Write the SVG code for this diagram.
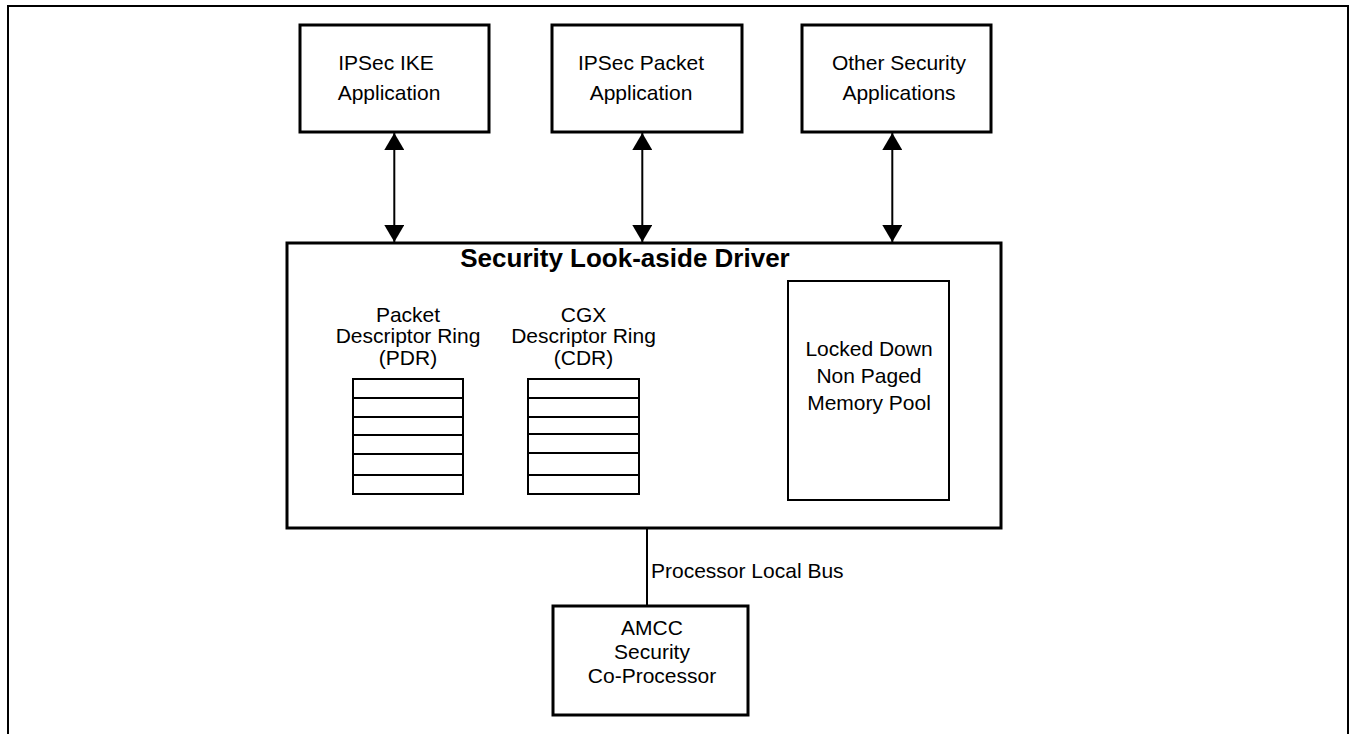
<svg xmlns="http://www.w3.org/2000/svg" width="1354" height="734" viewBox="0 0 1354 734">
<style>
.box{fill:#fff;stroke:#000;stroke-width:3}
.thin{fill:#fff;stroke:#000;stroke-width:2}
.t{font-family:"Liberation Sans",Arial,sans-serif;font-size:21px;fill:#000;text-anchor:middle}
.title{font-family:"Liberation Sans",Arial,sans-serif;font-size:26px;font-weight:bold;fill:#000;text-anchor:middle}
.conn{stroke:#000;stroke-width:2;fill:none}
.row{stroke:#000;stroke-width:2}
</style>
<defs>
<marker id="ah" viewBox="0 0 17 20" refX="17" refY="10" markerWidth="17" markerHeight="20" markerUnits="userSpaceOnUse" orient="auto-start-reverse">
<path d="M0,0 L17,10 L0,20 z" fill="#000"/>
</marker>
</defs>
<rect x="8" y="6" width="1340" height="740" fill="#fff" stroke="#000" stroke-width="2"/>
<g id="ike">
<rect class="box" x="300" y="25" width="189" height="107"/>
<text class="t" x="386" y="70">IPSec IKE</text>
<text class="t" x="389" y="100">Application</text>
</g>
<g id="packet">
<rect class="box" x="552" y="25" width="190" height="107"/>
<text class="t" x="641" y="70">IPSec Packet</text>
<text class="t" x="641" y="100">Application</text>
</g>
<g id="other">
<rect class="box" x="802" y="25" width="189" height="107"/>
<text class="t" x="899" y="70">Other Security</text>
<text class="t" x="899" y="100">Applications</text>
</g>
<g id="driver">
<rect class="box" x="287" y="243" width="714" height="285"/>
<text class="title" x="625" y="267">Security Look-aside Driver</text>
</g>
<g id="pdr">
<text class="t" x="408" y="322">Packet</text>
<text class="t" x="408" y="343">Descriptor Ring</text>
<text class="t" x="408" y="365">(PDR)</text>
<rect class="thin" x="353" y="379" width="110" height="115"/>
<path class="row" d="M353 398H463M353 417H463M353 435H463M353 454H463M353 475H463"/>
</g>
<g id="cdr">
<text class="t" x="583.5" y="322">CGX</text>
<text class="t" x="583.5" y="343">Descriptor Ring</text>
<text class="t" x="583.5" y="365">(CDR)</text>
<rect class="thin" x="528" y="379" width="111" height="115"/>
<path class="row" d="M528 398H639M528 417H639M528 434H639M528 453H639M528 475H639"/>
</g>
<g id="pool">
<rect class="thin" x="788" y="281" width="161" height="219"/>
<text class="t" x="869" y="356">Locked Down</text>
<text class="t" x="869" y="383">Non Paged</text>
<text class="t" x="869" y="410">Memory Pool</text>
</g>
<g id="amcc">
<rect class="box" x="553" y="606" width="195" height="109"/>
<text class="t" x="652" y="635">AMCC</text>
<text class="t" x="652" y="659">Security</text>
<text class="t" x="652" y="683">Co-Processor</text>
</g>
<g id="connectors">
<path class="conn" d="M394.3 133V242" marker-start="url(#ah)" marker-end="url(#ah)"/>
<path class="conn" d="M642.3 133V242" marker-start="url(#ah)" marker-end="url(#ah)"/>
<path class="conn" d="M892.3 133V242" marker-start="url(#ah)" marker-end="url(#ah)"/>
<path class="conn" d="M647 529V605" stroke-width="1.5"/>
<text class="t" x="651" y="578" style="text-anchor:start">Processor Local Bus</text>
</g>
</svg>
